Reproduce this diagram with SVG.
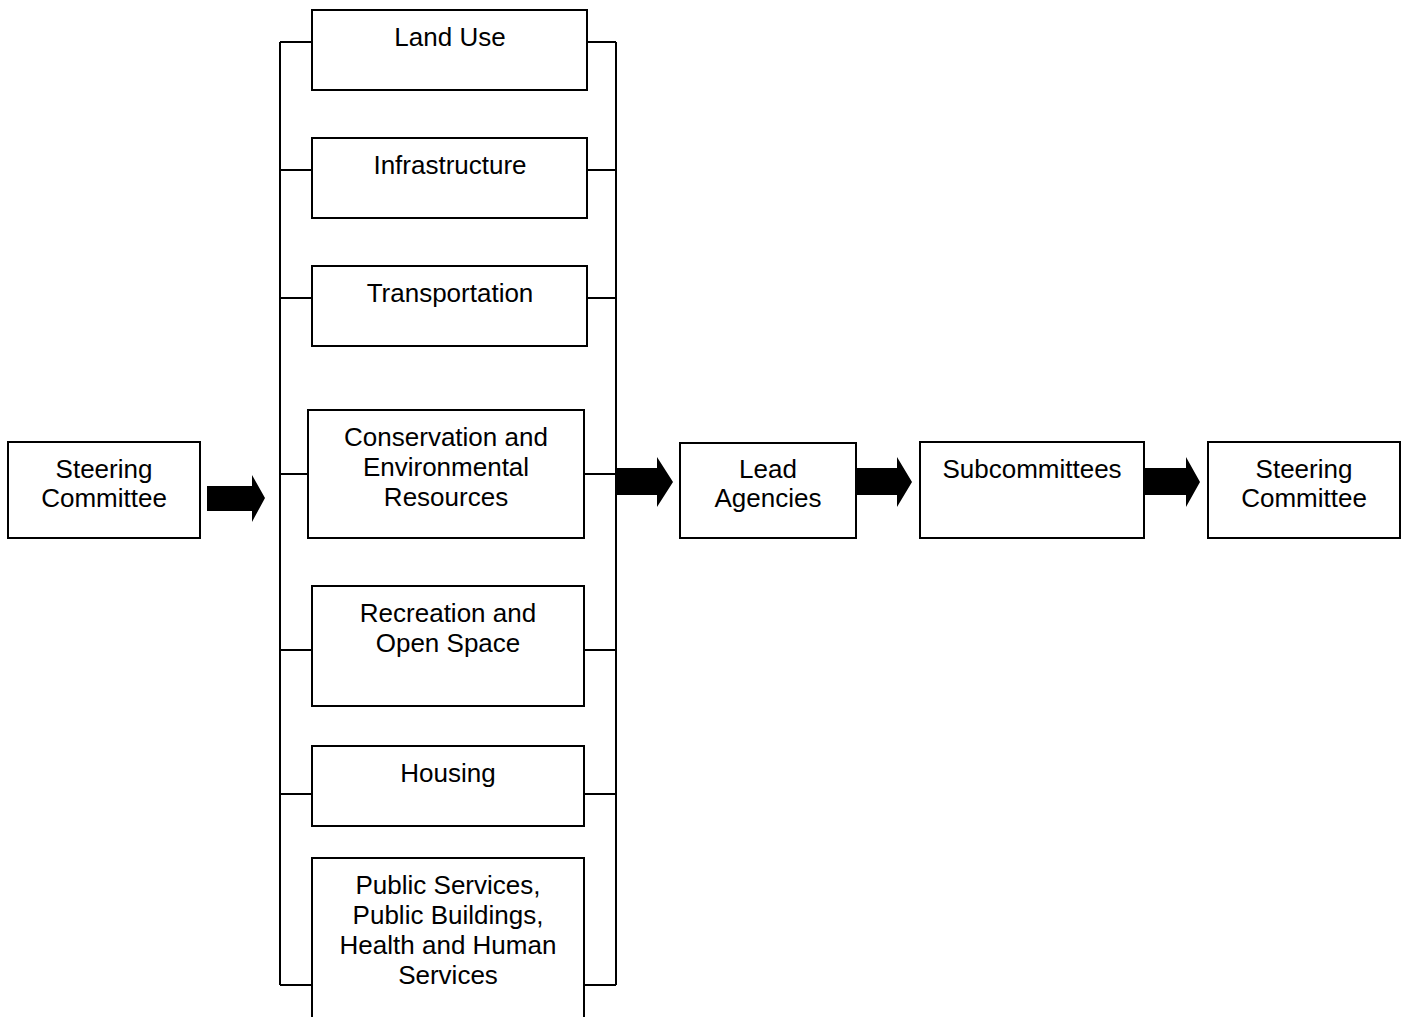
<svg xmlns="http://www.w3.org/2000/svg" width="1405" height="1017" viewBox="0 0 1405 1017">
<style>
.box{fill:#fff;stroke:#000;stroke-width:2}
.t{font-family:"Liberation Sans",Arial,sans-serif;font-size:26px;fill:#000;text-anchor:middle}
.ln{stroke:#000;stroke-width:2;fill:none}
.ar{fill:#000}
</style>
<rect width="1405" height="1017" fill="#fff"/>
<g id="connectors">
<path class="ln" d="M280,42V985M616,42V985"/>
<path class="ln" d="M280,42H312M587,42H616M280,170H312M587,170H616M280,298H312M587,298H616M280,474H308M584,474H616M280,650H312M584,650H616M280,794H312M584,794H616M280,985H312M584,985H616"/>
<polygon class="ar" points="207,486 252,486 252,475 265,498 252,522 252,511 207,511"/>
<polygon class="ar" points="616,468 657,468 657,457 673,482 657,507 657,495 616,495"/>
<polygon class="ar" points="856,468 897,468 897,457 912,482 897,507 897,495 856,495"/>
<polygon class="ar" points="1144,468 1186,468 1186,457 1200,482 1186,507 1186,495 1144,495"/>
</g>
<g id="steering1"><rect class="box" x="8" y="442" width="192" height="96"/><text class="t" x="104" y="478">Steering</text><text class="t" x="104" y="507">Committee</text></g>
<g id="landuse"><rect class="box" x="312" y="10" width="275" height="80"/><text class="t" x="450" y="46">Land Use</text></g>
<g id="infra"><rect class="box" x="312" y="138" width="275" height="80"/><text class="t" x="450" y="174">Infrastructure</text></g>
<g id="transport"><rect class="box" x="312" y="266" width="275" height="80"/><text class="t" x="450" y="302">Transportation</text></g>
<g id="conservation"><rect class="box" x="308" y="410" width="276" height="128"/><text class="t" x="446" y="446">Conservation and</text><text class="t" x="446" y="476">Environmental</text><text class="t" x="446" y="506">Resources</text></g>
<g id="recreation"><rect class="box" x="312" y="586" width="272" height="120"/><text class="t" x="448" y="622">Recreation and</text><text class="t" x="448" y="652">Open Space</text></g>
<g id="housing"><rect class="box" x="312" y="746" width="272" height="80"/><text class="t" x="448" y="782">Housing</text></g>
<g id="public"><rect class="box" x="312" y="858" width="272" height="170"/><text class="t" x="448" y="894">Public Services,</text><text class="t" x="448" y="924">Public Buildings,</text><text class="t" x="448" y="954">Health and Human</text><text class="t" x="448" y="984">Services</text></g>
<g id="lead"><rect class="box" x="680" y="443" width="176" height="95"/><text class="t" x="768" y="478">Lead</text><text class="t" x="768" y="507">Agencies</text></g>
<g id="sub"><rect class="box" x="920" y="442" width="224" height="96"/><text class="t" x="1032" y="478">Subcommittees</text></g>
<g id="steering2"><rect class="box" x="1208" y="442" width="192" height="96"/><text class="t" x="1304" y="478">Steering</text><text class="t" x="1304" y="507">Committee</text></g>
</svg>
